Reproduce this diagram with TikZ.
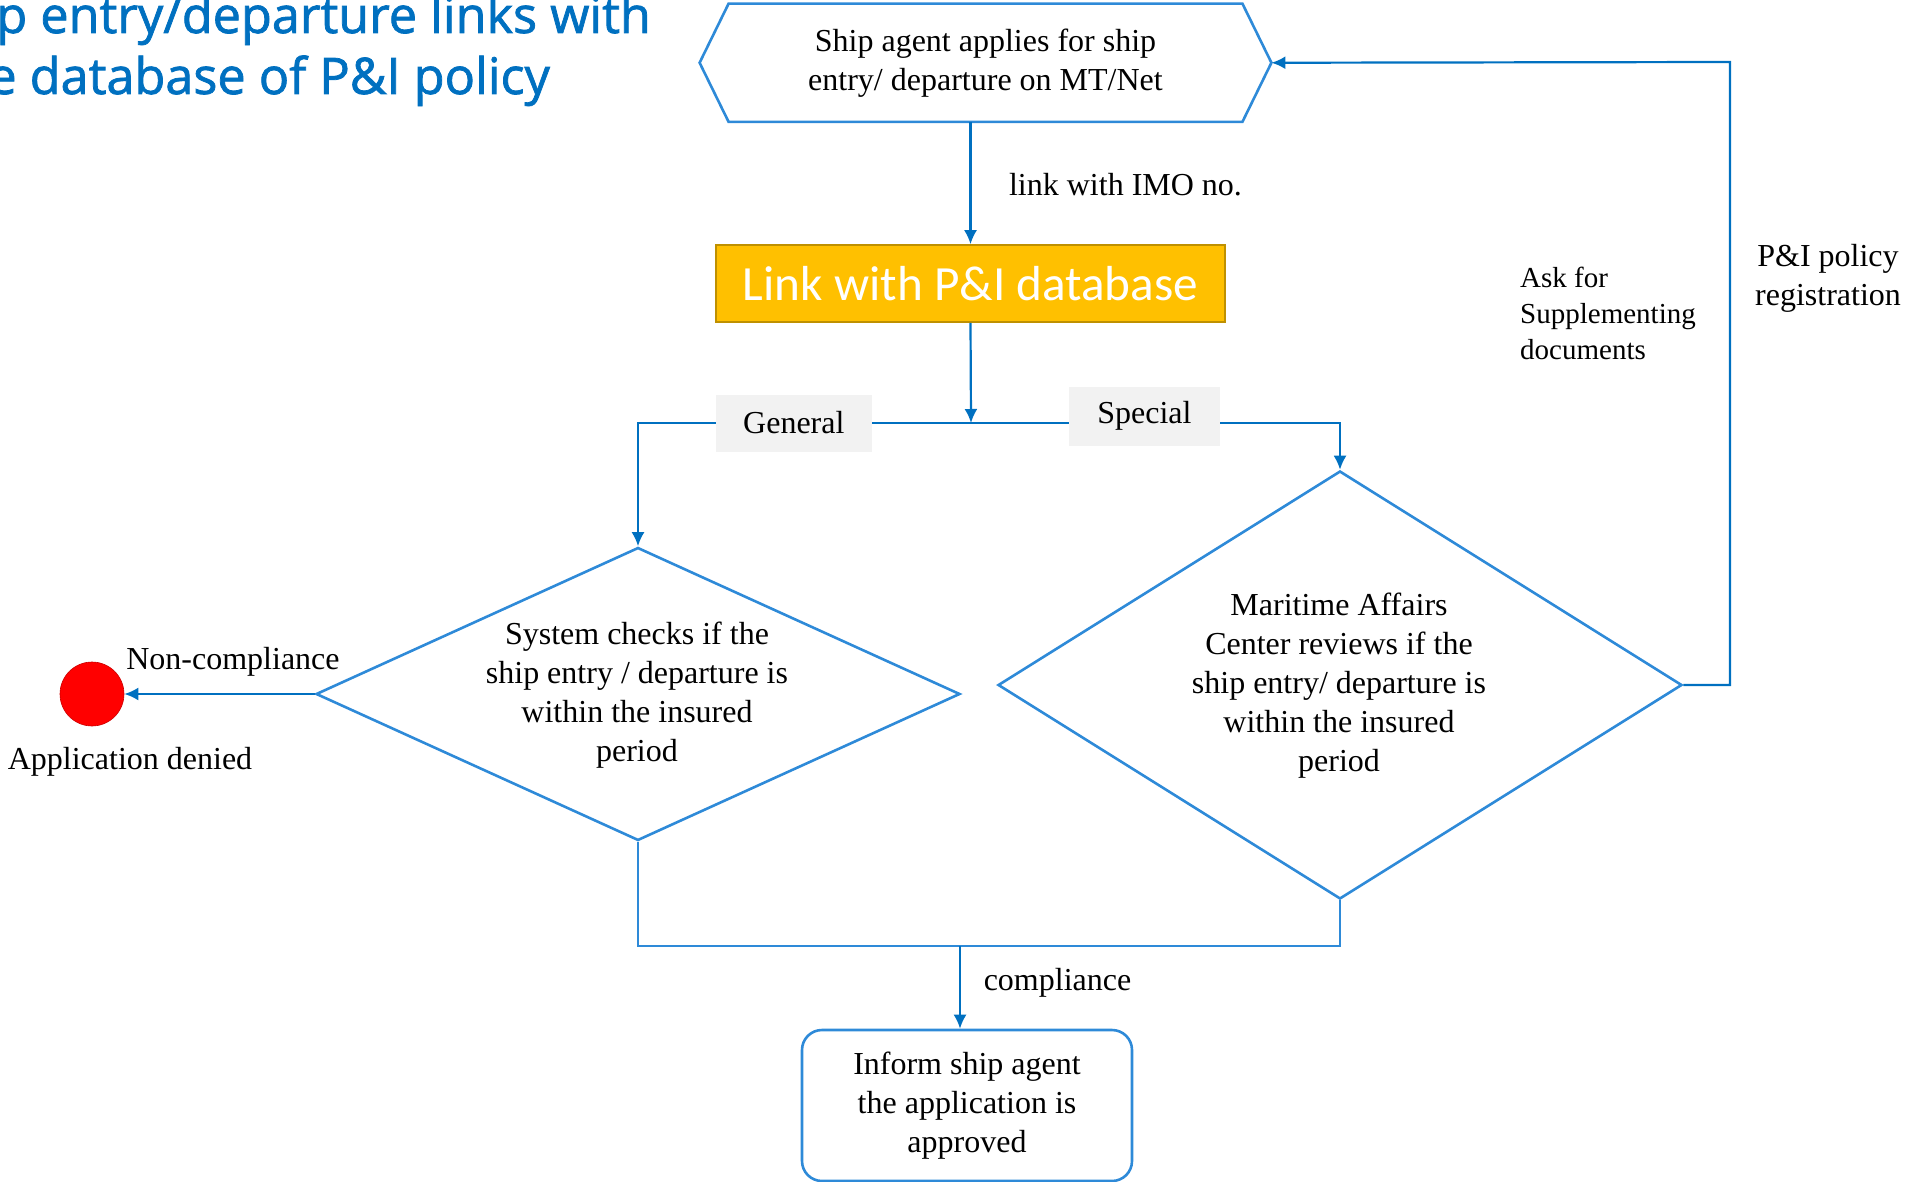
\documentclass[tikz,border=0pt]{standalone}
\usepackage{fontspec}
\setmainfont{Liberation Serif}
\newfontfamily\titlefont[FakeBold=1.5]{Open Sans}
\newfontfamily\boxfont{Carlito}
\usetikzlibrary{arrows.meta,shapes.geometric,positioning}
\definecolor{arrowblue}{RGB}{0,112,192}
\definecolor{lineblue}{RGB}{46,138,216}
\definecolor{gold}{RGB}{255,192,0}
\definecolor{golddark}{RGB}{191,144,0}
\definecolor{tagfill}{RGB}{242,242,242}
\tikzset{
  conn/.style={draw=arrowblue, line width=1.1pt, -{Latex[length=7pt,width=6.5pt]}},
  plain/.style={draw=lineblue, line width=1.3pt},
  decision/.style={diamond, draw=lineblue, line width=1.3pt, inner sep=0pt},
  txt/.style={font=\fontsize{16}{19.5}\selectfont, align=center},
  tag/.style={fill=tagfill, font=\fontsize{16}{19.5}\selectfont, inner sep=0pt},
}
\begin{document}
\begin{tikzpicture}[x=0.5pt, y=-0.5pt]
	\useasboundingbox (0,0) rectangle (1905,1182);
	% title (cut off at the left)
	\node[anchor=base west, inner sep=0pt, text=arrowblue, font=\titlefont\fontsize{25.2}{30}\selectfont] (title1) at (-4,33) {p entry/departure links with};
	\node[anchor=base west, inner sep=0pt, text=arrowblue, font=\titlefont\fontsize{25.2}{30}\selectfont] (title2) at (-12,94) {e database of P\&I policy};

	% hexagon start box
	\node[minimum width=285.5pt, minimum height=58.75pt, inner sep=0pt, txt] (apply) at (985.5,62.75) {Ship agent applies for ship\\entry/ departure on MT/Net};
	\draw[plain] (apply.west) -- ([xshift=14.5pt]apply.north west) -- ([xshift=-14.5pt]apply.north east)
		-- (apply.east) -- ([xshift=-14.5pt]apply.south east) -- ([xshift=14.5pt]apply.south west) -- cycle;
	\node[fill=gold, draw=golddark, line width=0.8pt, minimum width=254.5pt, minimum height=38.5pt, inner sep=0pt, text=white, font=\boxfont\fontsize{24.6}{28}\selectfont] (link) at (970.5,283.5) {Link with P\&I database};
	\coordinate (split) at (971,423);
	\node[decision, minimum width=322pt, minimum height=146.5pt] (check) at (638,694) {};
	\node[txt] (checktxt) at (637,695) {System checks if the\\ship entry / departure is\\within the insured\\period};
	\node[decision, minimum width=342pt, minimum height=214pt] (review) at (1340,685) {};
	\node[txt] (reviewtxt) at (1339,686) {Maritime Affairs\\Center reviews if the\\ship entry/ departure is\\within the insured\\period};
	\node[circle, fill=red, draw=red!80!black, line width=0.3pt, minimum size=32pt, inner sep=0pt] (denied) at (92,694) {};
	\node[txt] (deniedtxt) at (130,762) {Application denied};
	\node[rectangle, rounded corners=10pt, draw=lineblue, line width=1.3pt, minimum width=165pt, minimum height=75.5pt, txt] (inform) at (967,1105.5) {Inform ship agent\\the application is\\approved};
	\coordinate (merge) at (960,946);
	\coordinate (loop) at (1730,62);

	\draw[conn] (apply.south -| link.north) -- (link.north);
	\node[txt, anchor=west] (imo) at (1002,185) {link with IMO no.};
	\draw[conn] (link.south) -- (split);
	\draw[conn] (split) -| node[tag, pos=0.266, minimum width=78pt, minimum height=28.5pt] (general) {General} (check.north);
	\draw[conn] (split) -| node[tag, pos=0.235, yshift=3.5pt, minimum width=75.5pt, minimum height=29.5pt] (special) {Special} (review.north);
	\draw[conn] (check.west) -- (denied);
	\node[txt] (noncomp) at (233,662) {Non-compliance};
	\draw[conn] (review.east) -| (loop) -- (apply.east);
	\node[txt, font=\fontsize{14.5}{18}\selectfont, align=left] (askdocs) at (1608,313) {Ask for\\Supplementing\\documents};
	\node[txt] (register) at (1828,278.5) {P\&I policy\\registration};
	\draw[plain] (check.south) |- (merge) -| (review.south);
	\draw[conn] (merge) -- (merge |- inform.north) node[pos=0.45, right=8pt, txt] (comp) {compliance};
\end{tikzpicture}
\end{document}
